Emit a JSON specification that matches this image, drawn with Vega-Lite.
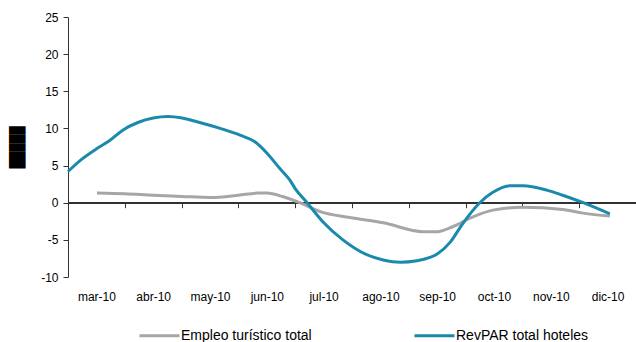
{
  "$schema": "https://vega.github.io/schema/vega-lite/v6.json",
  "width": 568,
  "height": 260,
  "autosize": "none",
  "padding": {"left": 68, "top": 17, "right": 0, "bottom": 65},
  "config": {"view": {"stroke": null}, "font": "Liberation Sans"},
  "data": {"values": [
    {"t": 0.51, "v": 1.3, "s": "Empleo turístico total"},
    {"t": 1.0, "v": 1.2, "s": "Empleo turístico total"},
    {"t": 1.5, "v": 1.0, "s": "Empleo turístico total"},
    {"t": 2.0, "v": 0.85, "s": "Empleo turístico total"},
    {"t": 2.5, "v": 0.7, "s": "Empleo turístico total"},
    {"t": 3.0, "v": 1.0, "s": "Empleo turístico total"},
    {"t": 3.35, "v": 1.3, "s": "Empleo turístico total"},
    {"t": 3.5, "v": 1.3, "s": "Empleo turístico total"},
    {"t": 3.79, "v": 0.8, "s": "Empleo turístico total"},
    {"t": 4.08, "v": 0.0, "s": "Empleo turístico total"},
    {"t": 4.44, "v": -1.2, "s": "Empleo turístico total"},
    {"t": 4.96, "v": -2.0, "s": "Empleo turístico total"},
    {"t": 5.55, "v": -2.7, "s": "Empleo turístico total"},
    {"t": 6.25, "v": -3.9, "s": "Empleo turístico total"},
    {"t": 6.5, "v": -3.9, "s": "Empleo turístico total"},
    {"t": 6.78, "v": -3.2, "s": "Empleo turístico total"},
    {"t": 7.13, "v": -1.9, "s": "Empleo turístico total"},
    {"t": 7.48, "v": -1.0, "s": "Empleo turístico total"},
    {"t": 8.01, "v": -0.6, "s": "Empleo turístico total"},
    {"t": 8.71, "v": -0.9, "s": "Empleo turístico total"},
    {"t": 9.07, "v": -1.4, "s": "Empleo turístico total"},
    {"t": 9.54, "v": -1.8, "s": "Empleo turístico total"},
    {"t": 0.0, "v": 4.2, "s": "RevPAR total hoteles"},
    {"t": 0.25, "v": 5.9, "s": "RevPAR total hoteles"},
    {"t": 0.51, "v": 7.3, "s": "RevPAR total hoteles"},
    {"t": 0.74, "v": 8.4, "s": "RevPAR total hoteles"},
    {"t": 0.97, "v": 9.8, "s": "RevPAR total hoteles"},
    {"t": 1.23, "v": 10.8, "s": "RevPAR total hoteles"},
    {"t": 1.5, "v": 11.4, "s": "RevPAR total hoteles"},
    {"t": 1.76, "v": 11.6, "s": "RevPAR total hoteles"},
    {"t": 2.01, "v": 11.4, "s": "RevPAR total hoteles"},
    {"t": 2.27, "v": 10.9, "s": "RevPAR total hoteles"},
    {"t": 2.68, "v": 10.0, "s": "RevPAR total hoteles"},
    {"t": 3.03, "v": 9.1, "s": "RevPAR total hoteles"},
    {"t": 3.29, "v": 8.2, "s": "RevPAR total hoteles"},
    {"t": 3.5, "v": 6.7, "s": "RevPAR total hoteles"},
    {"t": 3.73, "v": 4.6, "s": "RevPAR total hoteles"},
    {"t": 3.91, "v": 3.0, "s": "RevPAR total hoteles"},
    {"t": 4.0, "v": 1.9, "s": "RevPAR total hoteles"},
    {"t": 4.21, "v": 0.0, "s": "RevPAR total hoteles"},
    {"t": 4.49, "v": -2.6, "s": "RevPAR total hoteles"},
    {"t": 4.84, "v": -5.0, "s": "RevPAR total hoteles"},
    {"t": 5.26, "v": -7.0, "s": "RevPAR total hoteles"},
    {"t": 5.55, "v": -7.7, "s": "RevPAR total hoteles"},
    {"t": 5.85, "v": -8.0, "s": "RevPAR total hoteles"},
    {"t": 6.14, "v": -7.8, "s": "RevPAR total hoteles"},
    {"t": 6.5, "v": -6.9, "s": "RevPAR total hoteles"},
    {"t": 6.73, "v": -5.3, "s": "RevPAR total hoteles"},
    {"t": 6.95, "v": -2.8, "s": "RevPAR total hoteles"},
    {"t": 7.25, "v": 0.0, "s": "RevPAR total hoteles"},
    {"t": 7.48, "v": 1.4, "s": "RevPAR total hoteles"},
    {"t": 7.78, "v": 2.3, "s": "RevPAR total hoteles"},
    {"t": 8.01, "v": 2.3, "s": "RevPAR total hoteles"},
    {"t": 8.43, "v": 1.7, "s": "RevPAR total hoteles"},
    {"t": 8.71, "v": 1.0, "s": "RevPAR total hoteles"},
    {"t": 9.07, "v": 0.0, "s": "RevPAR total hoteles"},
    {"t": 9.54, "v": -1.5, "s": "RevPAR total hoteles"}
  ]},
  "layer": [
    {
      "mark": {"type": "rule", "color": "#333333", "strokeWidth": 1},
      "encoding": {
        "x": {"datum": 0, "type": "quantitative", "scale": {"domain": [0, 10], "nice": false, "zero": false},
          "axis": {"orient": "bottom", "offset": -74.3, "values": [0,1,2,3,4,5,6,7,8,9,10], "labels": false, "domain": false, "grid": false, "ticks": true, "tickSize": 5, "tickColor": "#333333", "title": null}},
        "x2": {"datum": 10},
        "y": {"datum": 0, "type": "quantitative", "scale": {"domain": [-10, 25], "nice": false},
          "axis": {"values": [-10,-5,0,5,10,15,20,25], "labelOverlap": false, "labelExpr": "'' + datum.value", "grid": false, "title": "█████", "titleFont": "DejaVu Sans Mono", "titleFontSize": 14, "titleColor": "#000000", "titlePadding": 16, "titleFontWeight": "normal",
            "domainColor": "#333333", "tickColor": "#333333", "tickSize": 5, "labelPadding": 5, "labelFontSize": 12, "labelColor": "#000000"}}
      }
    },
    {
      "mark": {"type": "line", "interpolate": "monotone", "strokeWidth": 3},
      "encoding": {
        "x": {"field": "t", "type": "quantitative", "scale": {"domain": [0, 10], "nice": false, "zero": false},
          "axis": {"orient": "bottom", "values": [0.5,1.5,2.5,3.5,4.5,5.5,6.5,7.5,8.5,9.5],
            "labelExpr": "['mar-10','abr-10','may-10','jun-10','jul-10','ago-10','sep-10','oct-10','nov-10','dic-10'][floor(datum.value)]",
            "domain": false, "ticks": false, "grid": false, "title": null, "labelPadding": 14, "labelFontSize": 12, "labelColor": "#000000"}},
        "y": {"field": "v", "type": "quantitative", "scale": {"domain": [-10, 25], "nice": false},
          "axis": {"values": [-10,-5,0,5,10,15,20,25], "labelOverlap": false, "labelExpr": "'' + datum.value", "grid": false, "title": "█████", "titleFont": "DejaVu Sans Mono", "titleFontSize": 14, "titleColor": "#000000", "titlePadding": 16, "titleFontWeight": "normal",
            "domainColor": "#333333", "tickColor": "#333333", "tickSize": 5, "labelPadding": 5, "labelFontSize": 12, "labelColor": "#000000"}},
        "color": {"field": "s", "type": "nominal",
          "scale": {"domain": ["Empleo turístico total", "RevPAR total hoteles"], "range": ["#a6a6a6", "#1a8aac"]},
          "legend": {"orient": "none", "legendX": 70, "legendY": 297, "direction": "horizontal", "title": null,
            "symbolType": "stroke", "symbolSize": 1600, "symbolStrokeWidth": 3, "labelFontSize": 14, "labelColor": "#000000", "labelOffset": 0, "columnPadding": 96}}
      }
    }
  ],
  "resolve": {"axis": {"x": "independent"}}
}
